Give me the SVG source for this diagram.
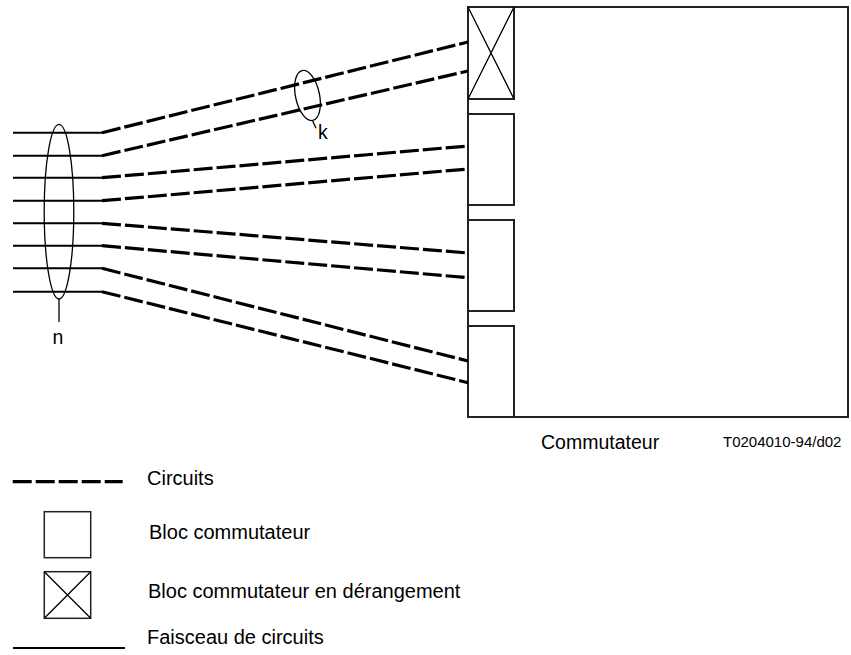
<svg xmlns="http://www.w3.org/2000/svg" width="851" height="655" viewBox="0 0 851 655">
<style>
  text { font-family: "Liberation Sans", Arial, sans-serif; fill: #000; }
  .lbl { font-size: 19.5px; }
  .leg { font-size: 20px; }
  .small { font-size: 15px; }
  .solid { stroke: #000; stroke-width: 2; fill: none; }
  .dash { stroke: #000; stroke-width: 3.2; fill: none; stroke-dasharray: 19 4; }
  .box { stroke: #222; stroke-width: 2; fill: #fff; }
  .thin { stroke: #000; stroke-width: 1.3; fill: none; }
</style>
<rect width="851" height="655" fill="#fff"/>

<g id="commutateur">
  <rect class="box" x="468" y="7" width="380" height="410" stroke="#444"/>
  <text class="lbl" x="541" y="449">Commutateur</text>
</g>
<g id="bloc1">
  <rect class="box" x="468" y="7" width="46" height="92"/>
  <path class="thin" d="M468 7 L514 99 M514 7 L468 99"/>
</g>
<g id="bloc2"><rect class="box" x="468" y="114" width="46" height="91"/></g>
<g id="bloc3"><rect class="box" x="468" y="220" width="46" height="91"/></g>
<g id="bloc4"><rect class="box" x="468" y="326" width="46" height="91"/></g>

<g id="faisceau">
  <path class="solid" d="M13 132.7 H102 M13 155.7 H102 M13 177.7 H102 M13 200.7 H102 M13 223.3 H102 M13 245.7 H102 M13 268.3 H102 M13 291.7 H102"/>
</g>

<g id="connectors">
  <path class="dash" d="M102 132.7 L468 42"/>
  <path class="dash" d="M102 155.7 L468 71"/>
  <path class="dash" d="M102 177.7 L468 146"/>
  <path class="dash" d="M102 200.7 L468 169"/>
  <path class="dash" d="M102 223.3 L468 253"/>
  <path class="dash" d="M102 245.7 L468 277.7"/>
  <path class="dash" d="M102 268.3 L468 361"/>
  <path class="dash" d="M102 291.7 L468 382.7"/>
</g>

<g id="n-marker">
  <ellipse class="thin" cx="59" cy="211.7" rx="14.8" ry="87.3"/>
  <path class="thin" d="M59 299 V322" stroke-width="2"/>
  <text class="lbl" x="58" y="344" text-anchor="middle">n</text>
</g>

<g id="k-marker">
  <ellipse class="thin" cx="307.5" cy="95.5" rx="12" ry="25.5" transform="rotate(-12 307.5 95.5)"/>
  <path class="thin" d="M312.7 121 L316 128.3"/>
  <text class="lbl" x="318" y="139">k</text>
</g>

<text class="small" x="723" y="447">T0204010-94/d02</text>

<g id="legend">
  <path class="dash" d="M12.7 481.7 H122.7" stroke-dasharray="20 2.5"/>
  <text class="leg" x="147" y="485">Circuits</text>
  <rect x="44.3" y="511.7" width="46.4" height="46" fill="none" stroke="#222" stroke-width="1.5"/>
  <text class="leg" x="149" y="539">Bloc commutateur</text>
  <rect x="44.3" y="571.7" width="46.4" height="46.6" fill="none" stroke="#222" stroke-width="1.5"/>
  <path class="thin" d="M44.3 571.7 L90.7 618.3 M90.7 571.7 L44.3 618.3"/>
  <text class="leg" x="148" y="598">Bloc commutateur en dérangement</text>
  <path class="solid" d="M13 648 H125"/>
  <text class="leg" x="147" y="644">Faisceau de circuits</text>
</g>
</svg>
